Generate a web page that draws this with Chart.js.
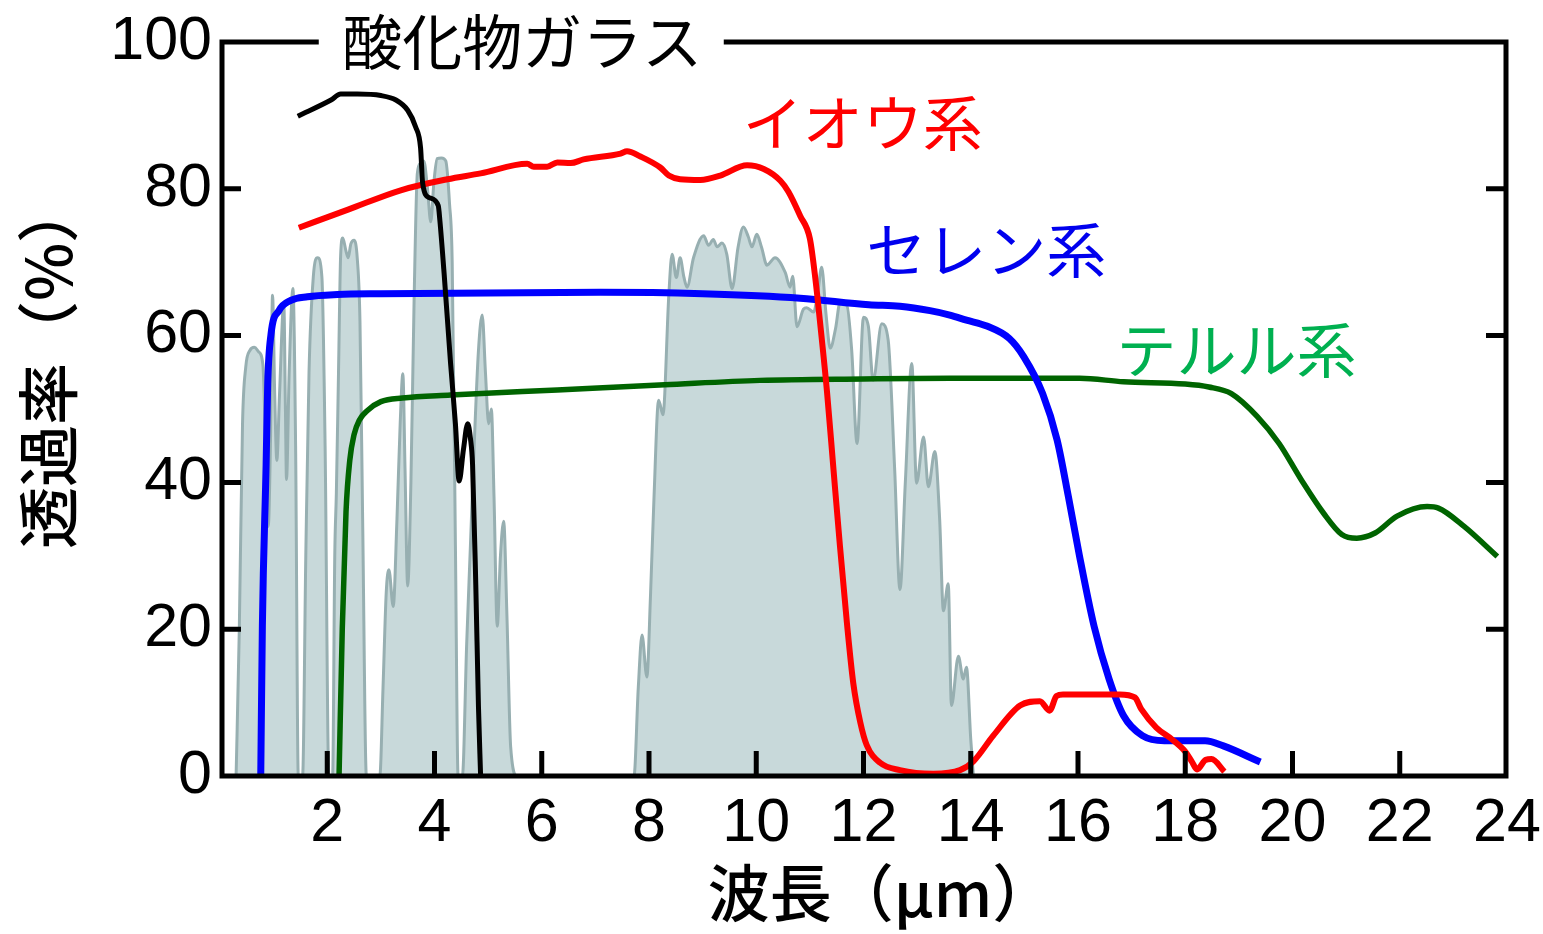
<!DOCTYPE html>
<html lang="ja">
<head>
<meta charset="UTF-8">
<title>透過率</title>
<script src="https://cdn.jsdelivr.net/npm/chart.js@4/dist/chart.umd.min.js"></script>
<style>
  html, body { margin: 0; padding: 0; background: #fff; }
  #wrap { width: 1543px; height: 934px; }
</style>
</head>
<body>
<div id="wrap"><canvas id="chart" width="1543" height="934"></canvas></div>
<script>
// axis ticks
const xTicks = [2, 4, 6, 8, 10, 12, 14, 16, 18, 20, 22, 24];
const yTicks = [0, 20, 40, 60, 80, 100];

// atmospheric window (grey area)
const atmX = [0.30, 0.36, 0.42, 0.48, 0.56, 0.64, 0.72, 0.80, 0.85, 0.90, 0.94, 0.98, 1.02, 1.06, 1.11, 1.19, 1.22, 1.24, 1.29, 1.36, 1.41, 1.46,
  1.54, 1.60, 1.66, 1.74, 1.82, 1.90, 1.96, 2.03,
  2.10, 2.14, 2.17, 2.21, 2.25, 2.29, 2.35, 2.39, 2.44, 2.50, 2.56, 2.61, 2.66, 2.73,
  2.98, 3.04, 3.10, 3.15, 3.23, 3.30, 3.36, 3.41, 3.45, 3.50, 3.56, 3.62, 3.68, 3.74, 3.80, 3.87, 3.93, 3.99, 4.05, 4.13, 4.21, 4.28, 4.33, 4.39, 4.44,
  4.52, 4.60, 4.67, 4.74, 4.82, 4.89, 4.95, 5.01, 5.06, 5.11, 5.17, 5.23, 5.29, 5.35, 5.42, 5.54,
  7.72, 7.80, 7.87, 7.96, 8.03, 8.09, 8.18, 8.26, 8.37, 8.43, 8.51, 8.58, 8.65, 8.71, 8.83, 9.02, 9.11, 9.20, 9.27, 9.36, 9.45, 9.55,
  9.66, 9.76, 9.85, 9.92, 10.01, 10.10, 10.20, 10.35, 10.54, 10.63, 10.68, 10.76, 10.88, 10.94, 11.07, 11.15, 11.22, 11.30, 11.38,
  11.48, 11.56, 11.69, 11.78, 11.88, 12.00, 12.09, 12.18, 12.34, 12.46, 12.58, 12.68, 12.78, 12.90, 12.99, 13.12, 13.21, 13.33,
  13.42, 13.49, 13.58, 13.64, 13.77, 13.86, 13.92, 14.00, 14.05];
const atmY = [0, 20, 48, 55.7, 58, 58.4, 57.8, 56, 45, 34, 45, 65.5, 52, 43, 52, 64.4, 50, 40.4, 55, 66.4, 45, 0,
  0, 30, 55, 68, 70.6, 68, 45, 0,
  0, 30, 38.6, 55, 71, 73.3, 71.5, 70.6, 72.5, 73, 70.5, 62, 35, 0,
  0, 12, 25, 28.1, 23.1, 35, 48, 54.8, 42, 25.9, 40, 65, 82.1, 83.5, 83.8, 80, 75.5, 81, 84.1, 84.2, 83.8, 78, 70, 31.4, 0,
  0, 18, 31.4, 45, 58, 62.8, 55, 48, 50, 38, 20.4, 30, 34.7, 22, 4, 0,
  0, 12, 19.2, 13.5, 25, 37.3, 51.2, 49.2, 65.6, 71.1, 67.9, 70.6, 68, 66.6, 70.6, 73.6, 72.3, 73.1, 72.1, 72.6, 71.1, 66.4,
  72, 74.8, 73.5, 72.1, 73.8, 72, 69.6, 70.6, 68.6, 66.6, 68.1, 61.2, 63.6, 63.8, 63.2, 66, 69.3, 63, 58.3,
  61, 64.4, 64.1, 58, 45.3, 62.5, 61.3, 53.9, 61.6, 59.4, 42, 25.4, 40, 56.2, 39.9, 46.2, 39.4, 44.2,
  35, 22.5, 26.2, 9.6, 16.3, 13.2, 14.8, 5, 0];

// 酸化物ガラス
const oxideX = [1.45, 2.07, 2.25, 2.56, 3.00, 3.28, 3.50, 3.65, 3.74, 3.78, 3.90, 4.07, 4.10, 4.18, 4.30, 4.39, 4.46, 4.54, 4.62, 4.67, 4.71, 4.77, 4.82, 4.86];
const oxideY = [89.9, 92.1, 92.9, 92.9, 92.7, 92.1, 90.7, 88.4, 85.6, 80.7, 78.8, 77.7, 75.7, 68.4, 56.2, 48.0, 40.2, 44.5, 48.0, 46.0, 42.4, 26.0, 9.4, 0];

// イオウ系
const sulfurX = [1.47, 2.40, 3.37, 4.24, 4.86, 5.73, 5.85, 6.10, 6.29, 6.54, 6.78, 7.47, 7.59, 7.84, 8.21, 8.37, 8.58, 8.96, 9.33, 9.83, 10.14, 10.45, 10.60,
  10.82, 11.00, 11.10, 11.20, 11.32, 11.44, 11.56, 11.69, 11.81, 11.94, 12.06, 12.31, 12.68, 13.30, 13.80, 14.05, 14.42, 14.92, 15.29, 15.47, 15.60, 15.72,
  16.20, 16.78, 17.06, 17.18, 17.46, 17.75, 17.99, 18.12, 18.22, 18.38, 18.49, 18.73];
const sulfurY = [74.7, 77.2, 79.8, 81.3, 82.1, 83.4, 83.0, 83.0, 83.6, 83.5, 84.0, 84.8, 85.1, 84.4, 82.9, 81.8, 81.3, 81.2, 81.8, 83.2, 82.7, 81.1, 79.6,
  76.3, 73.2, 67.9, 61.1, 52.3, 41.8, 31.4, 20.9, 12.6, 7.3, 4.2, 1.8, 0.8, 0.3, 0.8, 2.0, 5.5, 9.6, 10.2, 8.9, 10.9, 11.1,
  11.1, 11.1, 10.7, 9.1, 6.6, 5.0, 3.4, 2.0, 0.9, 2.2, 2.3, 0.6];

// セレン系
const seleniumX = [0.76, 0.79, 0.86, 0.89, 0.95, 1.10, 1.32, 1.63, 2.19, 3.00, 5.00, 7.09, 9.00, 10.82, 12.10, 12.68, 13.24, 13.61, 13.92, 14.30, 14.72,
  14.99, 15.34, 15.61, 15.82, 16.03, 16.30, 16.58, 16.85, 17.20, 17.61, 18.00, 18.37, 18.71, 19.40];
const seleniumY = [0, 20.4, 42.4, 53.5, 60.1, 63.4, 64.8, 65.3, 65.6, 65.7, 65.8, 65.9, 65.7, 65.1, 64.2, 64.0, 63.4, 62.8, 62.1, 61.3, 59.6,
  57.1, 52.1, 45.8, 38.1, 29.9, 20.4, 13.2, 8.2, 5.5, 4.8, 4.8, 4.8, 4.1, 1.9];

// テルル系
const telluriumX = [2.22, 2.28, 2.35, 2.42, 2.50, 2.60, 2.75, 3.00, 3.40, 4.30, 6.29, 8.29, 10.07, 12.00, 13.61, 16.03, 16.85, 18.00, 18.44, 18.86,
  19.34, 19.75, 20.16, 20.58, 20.92, 21.20, 21.54, 21.95, 22.51, 22.72, 23.20, 23.82];
const telluriumY = [0, 20, 36, 43, 46.5, 48.5, 49.8, 51.0, 51.5, 51.9, 52.6, 53.3, 53.9, 54.1, 54.2, 54.2, 53.7, 53.4, 53.0, 52.1,
  49.0, 45.3, 40.4, 35.8, 32.9, 32.4, 33.1, 35.4, 36.7, 36.5, 34.0, 29.9];

const toPoints = (xs, ys) => xs.map((x, i) => ({ x: x, y: ys[i] }));

const numFont = "'Liberation Sans', Arial, sans-serif";
const jpFont = "'Noto Sans CJK JP', 'Noto Sans', sans-serif";

// series names written inside the plot (anchor in data units)
const seriesLabels = [
  { text: '酸化物ガラス', x: 2.28, y: 100, color: '#000000' },
  { text: 'イオウ系', x: 9.75, y: 89.0, color: '#ff0000' },
  { text: 'セレン系', x: 12.05, y: 71.7, color: '#0000ee' },
  { text: 'テルル系', x: 16.72, y: 58.0, color: '#00b050' }
];

const framePlugin = {
  id: 'frame',
  afterDatasetsDraw(chart) {
    const { ctx, chartArea: a, scales: { x, y } } = chart;
    ctx.save();

    // series names
    ctx.font = '60px ' + jpFont;
    ctx.textBaseline = 'middle';
    ctx.textAlign = 'left';
    let gap = null;
    seriesLabels.forEach(l => {
      const px = x.getPixelForValue(l.x);
      const py = y.getPixelForValue(l.y);
      ctx.fillStyle = l.color;
      ctx.fillText(l.text, px, py);
      if (l.y === 100) {
        gap = [px - 26, px + ctx.measureText(l.text).width + 24];
      }
    });

    // frame
    ctx.strokeStyle = '#000';
    ctx.lineWidth = 5;
    ctx.lineCap = 'square';
    ctx.beginPath();
    ctx.moveTo(a.left + 2, a.top);
    ctx.lineTo(a.left + 2, a.bottom);
    ctx.lineTo(a.right - 1, a.bottom);
    ctx.lineTo(a.right - 1, a.top);
    ctx.moveTo(a.left + 2, a.top);
    ctx.lineTo(gap[0], a.top);
    ctx.moveTo(gap[1], a.top);
    ctx.lineTo(a.right - 1, a.top);
    ctx.stroke();

    // inward ticks
    ctx.lineCap = 'butt';
    ctx.beginPath();
    xTicks.slice(0, -1).forEach(v => {
      const px = x.getPixelForValue(v);
      ctx.moveTo(px, a.bottom);
      ctx.lineTo(px, a.bottom - 25);
    });
    yTicks.slice(1, -1).forEach(v => {
      const py = y.getPixelForValue(v);
      ctx.moveTo(a.left, py);
      ctx.lineTo(a.left + 21, py);
      ctx.moveTo(a.right, py);
      ctx.lineTo(a.right - 21, py);
    });
    ctx.stroke();

    // axis titles
    ctx.fillStyle = '#000';
    ctx.font = '500 62px ' + jpFont;
    ctx.textAlign = 'center';
    ctx.fillText('波長（μm）', 881, 893);
    ctx.translate(48, 365);
    ctx.rotate(-Math.PI / 2);
    ctx.fillText('透過率（%）', 0, 0);
    ctx.restore();
  }
};

new Chart(document.getElementById('chart'), {
  type: 'line',
  data: {
    datasets: [
      {
        label: '大気の窓',
        data: toPoints(atmX, atmY),
        borderColor: '#97afb1',
        backgroundColor: '#c8d9da',
        borderWidth: 3,
        fill: 'origin',
        cubicInterpolationMode: 'monotone',
        order: 5
      },
      {
        label: 'テルル系',
        data: toPoints(telluriumX, telluriumY),
        borderColor: '#006400',
        borderWidth: 5.5,
        fill: false,
        cubicInterpolationMode: 'monotone',
        order: 4
      },
      {
        label: 'セレン系',
        data: toPoints(seleniumX, seleniumY),
        borderColor: '#0000ff',
        borderWidth: 7,
        fill: false,
        cubicInterpolationMode: 'monotone',
        order: 3
      },
      {
        label: 'イオウ系',
        data: toPoints(sulfurX, sulfurY),
        borderColor: '#ff0000',
        borderWidth: 6,
        fill: false,
        cubicInterpolationMode: 'monotone',
        order: 2
      },
      {
        label: '酸化物ガラス',
        data: toPoints(oxideX, oxideY),
        borderColor: '#000000',
        borderWidth: 5,
        fill: false,
        cubicInterpolationMode: 'monotone',
        order: 1
      }
    ]
  },
  options: {
    responsive: false,
    animation: false,
    layout: { padding: { top: 42, right: 36, left: 0, bottom: 0 } },
    elements: { point: { radius: 0 } },
    plugins: {
      legend: { display: false },
      tooltip: { enabled: false }
    },
    scales: {
      x: {
        type: 'linear',
        min: 0,
        max: 24,
        afterFit(s) { s.height = 158; s.paddingLeft = 0; s.paddingRight = 0; },
        afterBuildTicks(s) { s.ticks = xTicks.map(v => ({ value: v })); },
        grid: { display: false, drawTicks: false },
        border: { display: false },
        ticks: { color: '#000', font: { family: numFont, size: 61 }, padding: 12, maxRotation: 0, autoSkip: false }
      },
      y: {
        min: 0,
        max: 100,
        afterFit(s) { s.width = 220; s.paddingTop = 0; s.paddingBottom = 0; },
        afterBuildTicks(s) { s.ticks = yTicks.map(v => ({ value: v })); },
        grid: { display: false, drawTicks: false },
        border: { display: false },
        ticks: { color: '#000', font: { family: numFont, size: 61 }, padding: 8 }
      }
    }
  },
  plugins: [framePlugin]
});
</script>
</body>
</html>
